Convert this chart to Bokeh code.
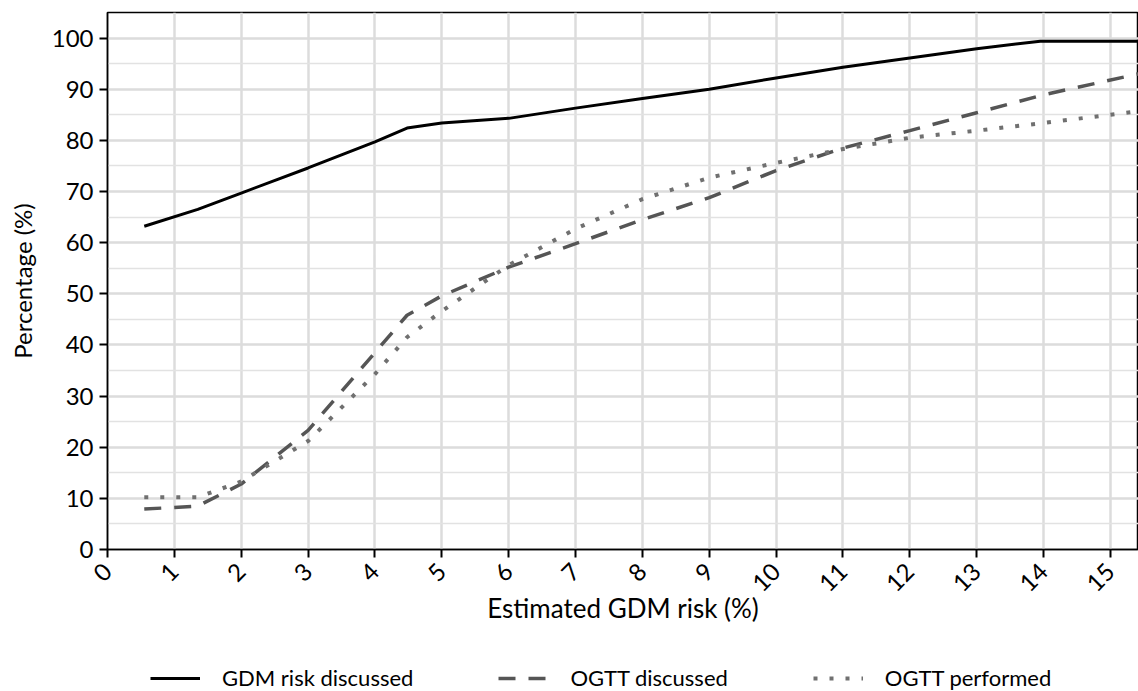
import math
from bokeh.plotting import figure
from bokeh.layouts import column
from bokeh.models import Legend, LegendItem, FixedTicker, Range1d
from bokeh.embed import file_html
from bokeh.resources import INLINE

# ---- data ----
risk_gdm = [0.55, 1.35, 2, 3, 4, 4.48, 5, 6, 7, 8, 9, 10, 11, 12, 13, 13.95, 15.42]
gdm_risk_discussed = [63.2, 66.5, 69.7, 74.6, 79.7, 82.4, 83.4, 84.3, 86.3, 88.2, 90.0, 92.2, 94.3, 96.1, 97.9, 99.4, 99.4]

risk_ogtt = [0.55, 1.35, 2, 3, 4, 4.48, 5, 6, 7, 8, 9, 10, 11, 12, 13, 14, 15.42]
ogtt_discussed = [7.9, 8.5, 12.8, 23.3, 38.5, 45.8, 49.6, 55.2, 59.8, 64.5, 68.8, 74.1, 78.5, 81.9, 85.4, 88.9, 93.0]
ogtt_performed = [10.2, 10.2, 13.3, 21.2, 34.3, 41.5, 46.6, 55.6, 62.7, 68.5, 72.7, 75.6, 78.3, 80.5, 81.9, 83.4, 85.7]

x_ticks = list(range(0, 16))
y_ticks = list(range(0, 101, 10))
y_minor = list(range(5, 105, 10))

series_names = ["GDM risk discussed", "OGTT discussed", "OGTT performed"]

FONT = "Lato"
STYLES = [dict(line_color="black", line_width=3),
          dict(line_color="#555555", line_width=3.5, line_dash="17 13"),
          dict(line_color="#707070", line_width=4, line_dash="4 12")]

p = figure(width=1138, height=636, output_backend="svg", toolbar_location=None,
           x_range=Range1d(0, 15.42), y_range=Range1d(0, 105),
           min_border_left=107, min_border_top=12, min_border_right=0,
           min_border_bottom=87,
           background_fill_color="white", border_fill_color="white")

p.outline_line_color = "black"
p.outline_line_width = 1.5

# grids
p.xgrid.ticker = FixedTicker(ticks=x_ticks)
p.xgrid.grid_line_color = "#dcdcdc"
p.xgrid.grid_line_width = 2.5
p.ygrid.ticker = FixedTicker(ticks=y_ticks, minor_ticks=y_minor)
p.ygrid.grid_line_color = "#dcdcdc"
p.ygrid.grid_line_width = 2.5
p.ygrid.minor_grid_line_color = "#e2e2e2"
p.ygrid.minor_grid_line_width = 1.5

# axes
for ax in (p.xaxis[0], p.yaxis[0]):
    ax.axis_line_color = "black"
    ax.axis_line_width = 1.5
    ax.major_tick_line_color = "black"
    ax.major_tick_line_width = 2
    ax.major_tick_out = 8
    ax.major_tick_in = 0
    ax.minor_tick_line_color = None
    ax.major_label_text_font = FONT
    ax.major_label_text_font_size = "24px"
    ax.major_label_text_color = "black"
    ax.axis_label_text_font = FONT
    ax.axis_label_text_font_style = "normal"
    ax.axis_label_text_color = "black"

p.xaxis.axis_label_text_font_size = "26px"
p.yaxis.axis_label_text_font_size = "24px"
p.xaxis.ticker = FixedTicker(ticks=x_ticks)
p.yaxis.ticker = FixedTicker(ticks=y_ticks)
p.xaxis.major_label_orientation = math.pi / 4
p.xaxis.axis_label = "Estimated GDM risk (%)"
p.yaxis.axis_label = "Percentage (%)"
p.yaxis.major_label_standoff = 6
p.xaxis.major_label_standoff = 10
p.xaxis.axis_label_standoff = -10
p.yaxis.axis_label_standoff = 12

p.line(risk_gdm, gdm_risk_discussed, **STYLES[0])
p.line(risk_ogtt, ogtt_discussed, **STYLES[1])
p.line(risk_ogtt, ogtt_performed, **STYLES[2])

# ---- legend strip below the chart ----
lg = figure(width=1138, height=55, output_backend="svg", toolbar_location=None,
            x_range=Range1d(100, 101), y_range=Range1d(200, 201),
            x_axis_location=None, y_axis_location=None, min_border=0,
            background_fill_color="white", border_fill_color="white")
lg.outline_line_color = None
lg.grid.visible = False
l1 = lg.line(risk_gdm, gdm_risk_discussed, **STYLES[0])
l2 = lg.line(risk_ogtt, ogtt_discussed, **STYLES[1])
l3 = lg.line(risk_ogtt, ogtt_performed, **STYLES[2])

legend = Legend(items=[LegendItem(label=series_names[0], renderers=[l1]),
                       LegendItem(label=series_names[1], renderers=[l2]),
                       LegendItem(label=series_names[2], renderers=[l3])],
                orientation="horizontal", location=(43, 0))
legend.label_text_font = FONT
legend.label_text_font_size = "22px"
legend.label_text_color = "black"
legend.glyph_width = 50
legend.label_standoff = 22
legend.spacing = 85
legend.border_line_color = None
legend.background_fill_alpha = 0
legend.margin = 0
legend.padding = 0
lg.add_layout(legend, "center")

layout = column(p, lg, spacing=0)
open("out.html", "w").write(file_html(layout, INLINE))
